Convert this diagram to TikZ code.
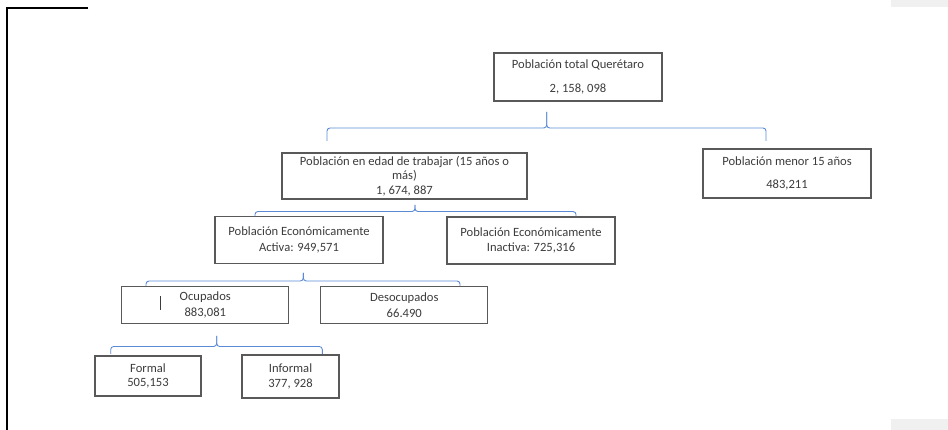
\documentclass[tikz,border=0pt]{standalone}
\usepackage{fontspec}
\setmainfont{Carlito}
\definecolor{boxgray}{RGB}{89,89,89}
\definecolor{txtgray}{RGB}{60,60,60}
\definecolor{braceblue}{RGB}{91,138,212}
\definecolor{panelgray}{RGB}{240,240,240}
\begin{document}
\begin{tikzpicture}[x=1pt,y=-1pt,
  box/.style={draw=boxgray, line width=1.1pt, inner sep=0pt, align=center, text=txtgray,
    font=\fontsize{12.6}{14.5}\selectfont},
  bracket/.style={draw=braceblue, line width=0.9pt, rounded corners=3pt}]
\useasboundingbox (0,0) rectangle (948,430);
%page edges
\fill[panelgray] (891,0) rectangle (948,7);
\fill[panelgray] (891,419) rectangle (948,430);
\draw[line width=1.8pt] (88,8) -- (7,8) -- (7,430);
%boxes
\node[box, minimum width=168pt, minimum height=48pt] (total) at (578,77) {Población total Querétaro\\[10pt]2, 158, 098};
\node[box, minimum width=245pt, minimum height=46pt] (edad) at (404.5,176) {Población en edad de trabajar (15 años o\\más)\\1, 674, 887};
\node[box, minimum width=168pt, minimum height=49pt] (menor) at (787,173.5) {Población menor 15 años\\[8pt]483,211};
\node[box, minimum width=168pt, minimum height=47pt] (activa) at (299,240.3) {Población Económicamente\\[1.5pt]Activa: 949,571};
\node[box, minimum width=168pt, minimum height=47pt] (inactiva) at (531,240.5) {Población Económicamente\\[1pt]Inactiva: 725,316};
\node[box, minimum width=167pt, minimum height=37pt] (ocupados) at (205.3,305.3) {Ocupados\\[1.5pt]883,081};
\node[box, minimum width=167pt, minimum height=37pt] (desocupados) at (404.3,305.3) {Desocupados\\[1.5pt]66.490};
\node[box, minimum width=106pt, minimum height=40pt] (formal) at (148,376) {Formal\\505,153};
\node[box, minimum width=97pt, minimum height=43pt] (informal) at (290.5,376.5) {Informal\\377, 928};
\draw[line width=0.8pt, txtgray] (160,296) -- (160,310);
%brace points
\coordinate (tip1) at (546.7,112); \coordinate (mid1) at (546.7,128);
\coordinate (end1a) at (327,141); \coordinate (end1b) at (766,141);
\coordinate (tip2) at (415,205); \coordinate (mid2) at (415,211.5);
\coordinate (end2a) at (255,216.5); \coordinate (end2b) at (576,216.5);
\coordinate (tip3) at (303.3,273); \coordinate (mid3) at (303.3,281);
\coordinate (end3a) at (146,286); \coordinate (end3b) at (460,286);
\coordinate (tip4) at (216.7,336); \coordinate (mid4) at (216.7,346.5);
\coordinate (end4a) at (110.7,354); \coordinate (end4b) at (322.3,354);
%braces
\foreach \n in {1,2,3,4}{
  \draw[bracket] (end\n a) -- (end\n a |- mid\n) -- (mid\n) -- (tip\n);
  \draw[bracket] (end\n b) -- (end\n b |- mid\n) -- (mid\n) -- (tip\n);
}
\end{tikzpicture}
\end{document}
